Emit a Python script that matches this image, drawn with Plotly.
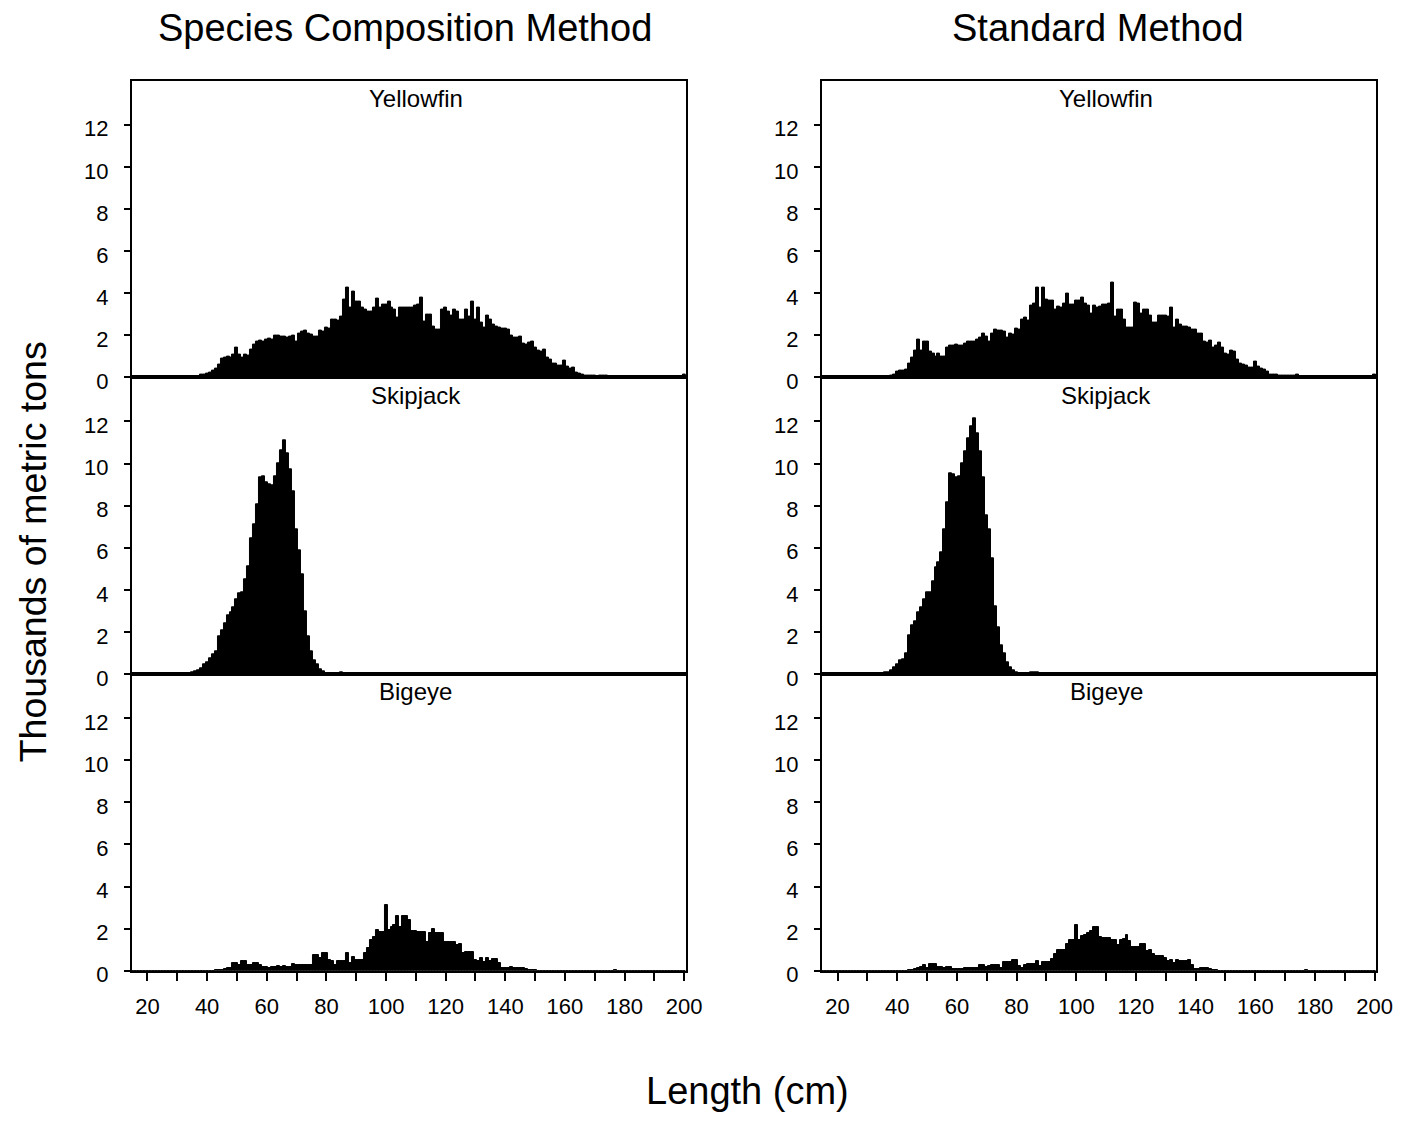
import plotly.graph_objects as go

# ---------------- data ----------------
LENGTH_CM = list(range(15, 201))

YF_SCM = [
    0, 0, 0, 0, 0, 0, 0, 0, 0, 0,
    0, 0, 0, 0, 0, 0, 0, 0, 0, 0,
    0, 0, 0.05, 0.12, 0.15, 0.2, 0.22, 0.3, 0.4, 0.6,
    0.9, 0.95, 1.0, 0.95, 1.1, 1.4, 1.1, 0.95, 1.1, 1.05,
    1.3, 1.55, 1.7, 1.75, 1.7, 1.8, 1.85, 1.8, 2.0, 2.0,
    1.95, 1.95, 1.9, 1.95, 2.0, 1.7, 2.1, 2.15, 2.2, 2.1,
    2.05, 1.95, 1.95, 2.2, 2.15, 2.35, 2.3, 2.75, 2.75, 2.7,
    2.9, 3.7, 4.25, 3.3, 4.05, 3.6, 3.6, 3.3, 3.2, 3.1,
    3.1, 3.3, 3.75, 3.3, 3.45, 3.45, 3.6, 3.3, 3.2, 2.85,
    3.3, 3.3, 3.3, 3.3, 3.3, 3.4, 3.45, 3.8, 2.65, 3.0,
    3.0, 2.4, 2.25, 2.25, 3.2, 3.3, 3.1, 2.95, 3.2, 3.1,
    2.75, 2.75, 3.2, 2.9, 3.6, 2.75, 3.3, 2.6, 2.35, 2.95,
    2.75, 2.5, 2.4, 2.35, 2.3, 2.3, 2.25, 2.0, 1.9, 1.9,
    1.95, 1.6, 1.55, 1.65, 1.7, 1.4, 1.25, 1.2, 1.3, 0.95,
    0.85, 0.67, 0.67, 0.55, 0.55, 0.78, 0.5, 0.4, 0.47, 0.23,
    0.2, 0.15, 0.1, 0.1, 0.08, 0.08, 0.05, 0.1, 0.1, 0.08,
    0.03, 0.03, 0.03, 0, 0, 0, 0, 0, 0, 0,
    0, 0, 0, 0, 0, 0, 0, 0, 0, 0,
    0, 0, 0, 0, 0, 0.12,
]

YF_STD = [
    0.02, 0.02, 0.02, 0.02, 0.02, 0.02, 0.02, 0.02, 0.02, 0.02,
    0.02, 0.02, 0.02, 0.02, 0.02, 0.02, 0.02, 0.02, 0.02, 0.02,
    0.02, 0.02, 0.05, 0.1, 0.12, 0.25, 0.3, 0.3, 0.35, 0.67,
    0.95, 1.25, 1.8, 1.25, 1.7, 1.7, 1.2, 1.15, 1.0, 1.15,
    1.0, 1.0, 1.4, 1.5, 1.5, 1.55, 1.5, 1.5, 1.6, 1.7,
    1.7, 1.7, 1.8, 1.9, 2.1, 1.95, 1.7, 2.1, 2.25, 2.2,
    2.2, 2.15, 1.9, 2.1, 2.05, 2.3, 2.25, 2.75, 2.85, 2.7,
    3.4, 3.5, 4.25, 3.3, 4.25, 3.7, 3.65, 3.65, 3.2, 3.35,
    3.3, 3.5, 4.0, 3.45, 3.45, 3.65, 3.65, 3.8, 3.5, 3.4,
    3.05, 3.4, 3.3, 3.35, 3.45, 3.45, 3.5, 4.5, 2.9, 3.2,
    3.2, 2.75, 2.35, 2.35, 2.35, 3.55, 3.5, 3.05, 3.2, 3.2,
    2.95, 2.6, 2.6, 2.95, 2.95, 2.95, 2.9, 3.3, 2.35, 2.75,
    2.5, 2.4, 2.4, 2.35, 2.25, 2.25, 2.1, 2.1, 1.7, 1.65,
    1.75, 1.4, 1.5, 1.65, 1.4, 1.15, 1.1, 1.25, 1.2, 0.85,
    0.67, 0.62, 0.58, 0.47, 0.47, 0.73, 0.5, 0.42, 0.35, 0.28,
    0.15, 0.15, 0.15, 0.1, 0.1, 0.08, 0.08, 0.08, 0.08, 0.12,
    0.04, 0.04, 0.04, 0.04, 0.04, 0.04, 0.04, 0.04, 0.04, 0.04,
    0.04, 0.04, 0.04, 0.04, 0.04, 0.04, 0.02, 0.02, 0.02, 0.02,
    0.02, 0.02, 0.02, 0.02, 0.02, 0.12,
]

SKJ_SCM = [
    0.01, 0.01, 0.01, 0.01, 0.01, 0.01, 0.01, 0.01, 0.01, 0.01,
    0.01, 0.01, 0.01, 0.01, 0.01, 0.01, 0.01, 0.02, 0.04, 0.05,
    0.08, 0.12, 0.17, 0.28, 0.44, 0.55, 0.75, 0.95, 1.06, 1.8,
    2.1, 2.4, 2.8, 2.95, 3.17, 3.55, 3.85, 3.9, 4.5, 5.1,
    6.45, 7.1, 8.05, 9.35, 9.4, 9.1, 9.0, 8.95, 9.4, 10.0,
    10.65, 11.1, 10.5, 9.75, 8.7, 6.9, 5.9, 4.75, 3.0, 1.77,
    1.06, 0.67, 0.44, 0.23, 0.12, 0.05, 0.03, 0.03, 0.03, 0.03,
    0.09, 0.03, 0.02, 0.01, 0.01, 0.01, 0.01, 0.01, 0.01, 0.01,
    0, 0, 0, 0, 0, 0, 0, 0, 0, 0,
    0, 0, 0, 0, 0, 0, 0, 0, 0, 0,
    0, 0, 0, 0, 0, 0, 0, 0, 0, 0,
    0, 0, 0, 0, 0, 0, 0, 0, 0, 0,
    0, 0, 0, 0, 0, 0, 0, 0, 0, 0,
    0, 0, 0, 0, 0, 0, 0, 0, 0, 0,
    0, 0, 0, 0, 0, 0, 0, 0, 0, 0,
    0, 0, 0, 0, 0, 0, 0, 0, 0, 0,
    0, 0, 0, 0, 0, 0, 0, 0, 0, 0,
    0, 0, 0, 0, 0, 0, 0, 0, 0, 0,
    0, 0, 0, 0, 0, 0,
]

SKJ_STD = [
    0.01, 0.01, 0.01, 0.01, 0.01, 0.01, 0.01, 0.01, 0.01, 0.01,
    0.01, 0.01, 0.01, 0.01, 0.01, 0.01, 0.01, 0.01, 0.01, 0.01,
    0.02, 0.06, 0.1, 0.2, 0.3, 0.45, 0.63, 0.69, 1.0, 1.83,
    2.3, 2.5, 2.92, 3.16, 3.55, 3.86, 3.86, 4.4, 5.06, 5.3,
    5.8, 6.88, 8.16, 9.53, 9.5, 9.36, 9.4, 10.0, 10.6, 11.2,
    11.75, 12.17, 11.44, 10.6, 9.33, 7.53, 6.9, 5.5, 3.23, 2.2,
    1.36, 0.97, 0.55, 0.34, 0.16, 0.08, 0.04, 0.03, 0.03, 0.03,
    0.08, 0.1, 0.1, 0.05, 0.02, 0.01, 0.01, 0.01, 0.01, 0.01,
    0, 0, 0, 0, 0, 0, 0, 0, 0, 0,
    0, 0, 0, 0, 0, 0, 0, 0, 0, 0,
    0, 0, 0, 0, 0, 0, 0, 0, 0, 0,
    0, 0, 0, 0, 0, 0, 0, 0, 0, 0,
    0, 0, 0, 0, 0, 0, 0, 0, 0, 0,
    0, 0, 0, 0, 0, 0, 0, 0, 0, 0,
    0, 0, 0, 0, 0, 0, 0, 0, 0, 0,
    0, 0, 0, 0, 0, 0, 0, 0, 0, 0,
    0, 0, 0, 0, 0, 0, 0, 0, 0, 0,
    0, 0, 0, 0, 0, 0, 0, 0, 0, 0,
    0, 0, 0, 0, 0, 0,
]

BET_SCM = [
    0, 0, 0, 0, 0, 0, 0, 0, 0, 0,
    0, 0, 0, 0, 0, 0, 0, 0, 0, 0,
    0, 0, 0, 0, 0, 0, 0, 0, 0.03, 0.05,
    0.05, 0.1, 0.15, 0.15, 0.36, 0.36, 0.28, 0.44, 0.44, 0.25,
    0.25, 0.36, 0.36, 0.25, 0.2, 0.2, 0.12, 0.2, 0.2, 0.22,
    0.2, 0.22, 0.2, 0.2, 0.31, 0.25, 0.25, 0.25, 0.28, 0.25,
    0.25, 0.75, 0.75, 0.6, 0.83, 0.83, 0.5, 0.44, 0.25, 0.44,
    0.44, 0.44, 0.83, 0.36, 0.67, 0.52, 0.52, 0.52, 0.83, 1.06,
    1.45, 1.6, 1.92, 1.84, 1.84, 3.1, 1.92, 2.08, 2.15, 2.6,
    2.1, 2.62, 2.62, 2.4, 1.87, 1.87, 1.84, 1.84, 1.84, 1.37,
    1.77, 2.0, 1.77, 1.77, 1.77, 1.37, 1.35, 1.35, 1.35, 1.22,
    1.25, 0.83, 0.9, 0.9, 0.9, 0.52, 0.44, 0.6, 0.4, 0.6,
    0.44, 0.55, 0.55, 0.36, 0.15, 0.15, 0.15, 0.2, 0.15, 0.15,
    0.15, 0.15, 0.08, 0.04, 0.04, 0.04, 0, 0, 0, 0,
    0, 0, 0, 0, 0, 0, 0, 0, 0, 0,
    0, 0, 0, 0, 0, 0, 0, 0, 0, 0,
    0, 0, 0.05, 0, 0, 0, 0, 0, 0, 0,
    0, 0, 0, 0, 0, 0, 0, 0, 0, 0,
    0, 0, 0, 0, 0, 0,
]

BET_STD = [
    0, 0, 0, 0, 0, 0, 0, 0, 0, 0,
    0, 0, 0, 0, 0, 0, 0, 0, 0, 0,
    0, 0, 0, 0, 0, 0, 0, 0, 0, 0.03,
    0.05, 0.08, 0.15, 0.2, 0.28, 0.15, 0.3, 0.3, 0.3, 0.19,
    0.19, 0.15, 0.19, 0.19, 0.1, 0.1, 0.1, 0.1, 0.15, 0.15,
    0.15, 0.15, 0.11, 0.28, 0.28, 0.19, 0.23, 0.28, 0.28, 0.28,
    0.15, 0.42, 0.42, 0.42, 0.53, 0.53, 0.23, 0.15, 0.28, 0.3,
    0.3, 0.3, 0.47, 0.23, 0.42, 0.42, 0.42, 0.55, 0.78, 1.0,
    1.0, 1.0, 1.25, 1.45, 1.48, 2.19, 1.48, 1.64, 1.72, 1.8,
    1.9, 2.06, 2.1, 1.6, 1.56, 1.56, 1.56, 1.45, 1.45, 1.22,
    1.48, 1.53, 1.7, 1.4, 1.12, 1.12, 1.12, 1.25, 1.25, 0.94,
    0.97, 0.81, 0.7, 0.7, 0.7, 0.6, 0.44, 0.5, 0.39, 0.5,
    0.44, 0.44, 0.44, 0.5, 0.28, 0.08, 0.08, 0.15, 0.15, 0.15,
    0.06, 0.03, 0.03, 0, 0, 0, 0, 0, 0, 0,
    0, 0, 0, 0, 0, 0, 0, 0, 0, 0,
    0, 0, 0, 0, 0, 0, 0, 0, 0, 0,
    0, 0, 0.05, 0, 0, 0, 0, 0, 0, 0,
    0, 0, 0, 0, 0, 0, 0, 0, 0, 0,
    0, 0, 0, 0, 0, 0,
]

SPECIES = ["Yellowfin", "Skipjack", "Bigeye"]
METHODS = ["Species Composition Method", "Standard Method"]
Y_TICKS = [0, 2, 4, 6, 8, 10, 12]
X_TICKS = [20, 30, 40, 50, 60, 70, 80, 90, 100, 110, 120, 130, 140, 150, 160, 170, 180, 190, 200]
X_TICK_TEXT = ["20", "", "40", "", "60", "", "80", "", "100", "", "120", "", "140", "", "160", "", "180", "", "200"]
X_TITLE = "Length (cm)"
Y_TITLE = "Thousands of metric tons"

SERIES = [[YF_SCM, YF_STD], [SKJ_SCM, SKJ_STD], [BET_SCM, BET_STD]]

# ---------------- layout geometry ----------------
# The page body keeps the browser's default 8px margin, so the figure is
# 16px smaller than the window and all page positions are shifted by 8px.
PAGE_W, PAGE_H = 1417, 1134
OFF = 8
W, H = PAGE_W - 2 * OFF, PAGE_H - 2 * OFF


def fx(px):
    return (px - OFF) / W


def fy(py):
    return 1 - (py - OFF) / H


COL_PX = [(133.5, 694.0), (832.0, 1393.0)]
ROW_PX = [(81.7, 383.0), (383.0, 684.3), (684.3, 985.6)]
FONT = "Liberation Sans, Arial, sans-serif"
TICK_SIZE = 22

fig = go.Figure()
layout_axes = {}
annotations = []

for r in range(3):
    for c in range(2):
        i = r * 2 + c + 1
        xa = "x" if i == 1 else f"x{i}"
        ya = "y" if i == 1 else f"y{i}"
        xkey = "xaxis" if i == 1 else f"xaxis{i}"
        ykey = "yaxis" if i == 1 else f"yaxis{i}"
        fig.add_trace(go.Bar(
            x=LENGTH_CM, y=SERIES[r][c], xaxis=xa, yaxis=ya, width=1,
            marker=dict(color="black", line=dict(width=1, color="black")),
            showlegend=False, hoverinfo="skip",
        ))
        x0, x1 = COL_PX[c]
        y0, y1 = ROW_PX[r]
        bottom = (r == 2)
        layout_axes[xkey] = dict(
            domain=[fx(x0), fx(x1)], range=[14.8, 200.5], anchor=ya,
            showline=True, mirror=True, linecolor="black", linewidth=2,
            showgrid=False, zeroline=False,
            tickmode="array", tickvals=X_TICKS, ticktext=X_TICK_TEXT,
            ticks="outside" if bottom else "", ticklen=8, tickwidth=1.5, tickcolor="black",
            showticklabels=bottom, tickfont=dict(size=TICK_SIZE, color="black", family=FONT),
            ticklabelstandoff=7,
        )
        layout_axes[ykey] = dict(
            domain=[fy(y1), fy(y0)], range=[0, 14.1], anchor=xa,
            showline=True, mirror=True, linecolor="black", linewidth=2,
            showgrid=False, zeroline=False,
            tickmode="array", tickvals=Y_TICKS,
            ticks="outside", ticklen=6, tickwidth=1.5, tickcolor="black",
            tickfont=dict(size=TICK_SIZE, color="black", family=FONT),
            ticklabelstandoff=11, ticklabelshift=4,
        )
        annotations.append(dict(
            text=SPECIES[r], x=110, y=13.25, xref=xa, yref=ya,
            xanchor="center", yanchor="middle", showarrow=False,
            font=dict(size=24, color="black", family=FONT),
        ))

for c, name in enumerate(METHODS):
    cx = [410, 1111][c]
    annotations.append(dict(
        text=name, x=fx(cx), y=fy(28), xref="paper", yref="paper",
        xanchor="center", yanchor="middle", showarrow=False,
        font=dict(size=38, color="black", family=FONT),
    ))

annotations.append(dict(
    text=X_TITLE, x=fx(757), y=fy(1108), xref="paper", yref="paper",
    xanchor="center", yanchor="middle", showarrow=False,
    font=dict(size=38, color="black", family=FONT),
))
annotations.append(dict(
    text=Y_TITLE, x=fx(33), y=fy(560), xref="paper", yref="paper",
    xanchor="center", yanchor="middle", showarrow=False, textangle=-90,
    font=dict(size=37.5, color="black", family=FONT),
))

fig.update_layout(
    width=W, height=H, autosize=False,
    margin=dict(l=0, r=0, t=0, b=0),
    paper_bgcolor="white", plot_bgcolor="white",
    bargap=0, barmode="overlay",
    annotations=annotations,
    font=dict(family=FONT, color="black"),
    **layout_axes,
)

fig.write_html("out.html", config={"displayModeBar": False})
